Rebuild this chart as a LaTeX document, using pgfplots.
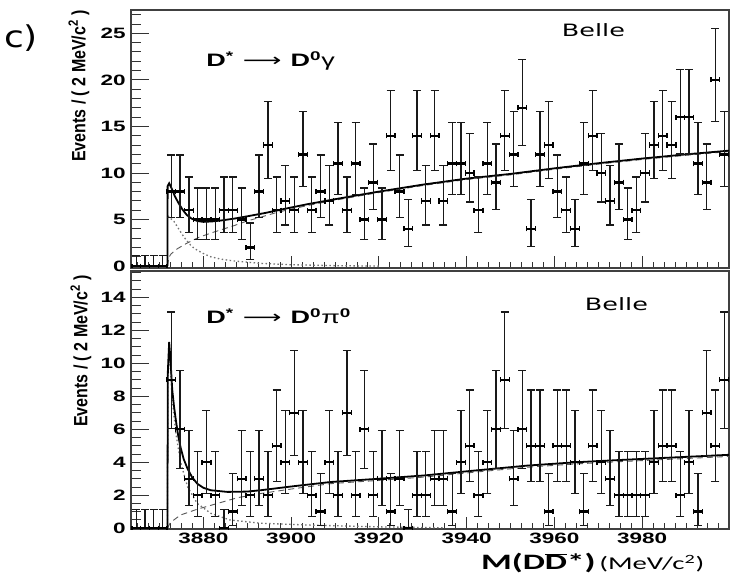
\documentclass[border=0pt]{standalone}
\usepackage{pgfplots}
\pgfplotsset{compat=1.18}
\usepackage{pgfplotstable}
\usepackage{fontspec}
\setmainfont{Liberation Sans}
\newfontfamily\dejavu{DejaVu Sans}
\newfontfamily\carlito{Carlito}

\pgfplotstableread{
x y ep em
3864.7 0 1.15 0
3866.7 0 1.15 0
3868.7 0 1.15 0
3870.7 0 1.15 0
3872.7 8 3.94 2.77
3874.7 8 3.94 2.77
3876.7 6 3.58 2.38
3878.7 5 3.38 2.16
3880.7 5 3.38 2.16
3882.7 5 3.38 2.16
3884.7 6 3.58 2.38
3886.7 6 3.58 2.38
3888.7 5 3.38 2.16
3890.7 2 2.64 1.29
3892.7 8 3.94 2.77
3894.7 13 4.70 3.56
3896.7 6 3.58 2.38
3898.7 7 3.77 2.58
3900.7 6 3.58 2.38
3902.7 12 4.56 3.42
3904.7 6 3.58 2.38
3906.7 8 3.94 2.77
3908.7 7 3.77 2.58
3910.7 11 4.42 3.27
3912.7 6 3.58 2.38
3914.7 11 4.42 3.27
3916.7 5 3.38 2.16
3918.7 9 4.11 2.94
3920.7 5 3.38 2.16
3922.7 14 4.83 3.70
3924.7 8 3.94 2.77
3926.7 4 3.16 1.91
3928.7 14 4.83 3.70
3930.7 7 3.77 2.58
3932.7 14 4.83 3.70
3934.7 7 3.77 2.58
3936.7 11 4.42 3.27
3938.7 11 4.42 3.27
3940.7 10 4.27 3.11
3942.7 6 3.58 2.38
3944.7 11 4.42 3.27
3946.7 9 4.11 2.94
3948.7 14 4.83 3.70
3950.7 12 4.56 3.42
3952.7 17 5.20 4.09
3954.7 4 3.16 1.91
3956.7 12 4.56 3.42
3958.7 13 4.70 3.56
3960.7 8 3.94 2.77
3962.7 6 3.58 2.38
3964.7 4 3.16 1.91
3966.7 11 4.42 3.27
3968.7 14 4.83 3.70
3970.7 10 4.27 3.11
3972.7 7 3.77 2.58
3974.7 9 4.11 2.94
3976.7 5 3.38 2.16
3978.7 6 3.58 2.38
3980.7 10 4.27 3.11
3982.7 13 4.70 3.56
3984.7 14 4.83 3.70
3986.7 13 4.70 3.56
3988.7 16 5.08 3.96
3990.7 16 5.08 3.96
3992.7 11 4.42 3.27
3994.7 9 4.11 2.94
3996.7 20 5.55 4.45
3998.7 12 4.56 3.42
}\toptab

\pgfplotstableread{
x y ep em
3864.7 0 1.15 0
3866.7 0 1.15 0
3868.7 0 1.15 0
3870.7 0 1.15 0
3872.7 9 4.11 2.94
3874.7 6 3.58 2.38
3876.7 3 2.92 1.63
3878.7 2 2.64 1.29
3880.7 4 3.16 1.91
3882.7 2 2.64 1.29
3884.7 0 1.15 0
3886.7 1 2.30 0.83
3888.7 3 2.92 1.63
3890.7 2 2.64 1.29
3892.7 3 2.92 1.63
3894.7 2 2.64 1.29
3896.7 5 3.38 2.16
3898.7 4 3.16 1.91
3900.7 7 3.77 2.58
3902.7 4 3.16 1.91
3904.7 2 2.64 1.29
3906.7 1 2.30 0.83
3908.7 4 3.16 1.91
3910.7 2 2.64 1.29
3912.7 7 3.77 2.58
3914.7 2 2.64 1.29
3916.7 6 3.58 2.38
3918.7 2 2.64 1.29
3920.7 3 2.92 1.63
3922.7 1 2.30 0.83
3924.7 3 2.92 1.63
3926.7 0 1.15 0
3928.7 2 2.64 1.29
3930.7 2 2.64 1.29
3932.7 3 2.92 1.63
3934.7 3 2.92 1.63
3936.7 1 2.30 0.83
3938.7 4 3.16 1.91
3940.7 5 3.38 2.16
3942.7 2 2.64 1.29
3944.7 4 3.16 1.91
3946.7 6 3.58 2.38
3948.7 9 4.11 2.94
3950.7 3 2.92 1.63
3952.7 6 3.58 2.38
3954.7 5 3.38 2.16
3956.7 5 3.38 2.16
3958.7 1 2.30 0.83
3960.7 5 3.38 2.16
3962.7 5 3.38 2.16
3964.7 4 3.16 1.91
3966.7 1 2.30 0.83
3968.7 5 3.38 2.16
3970.7 4 3.16 1.91
3972.7 3 2.92 1.63
3974.7 2 2.64 1.29
3976.7 2 2.64 1.29
3978.7 2 2.64 1.29
3980.7 2 2.64 1.29
3982.7 4 3.16 1.91
3984.7 5 3.38 2.16
3986.7 5 3.38 2.16
3988.7 2 2.64 1.29
3990.7 4 3.16 1.91
3992.7 1 2.30 0.83
3994.7 7 3.77 2.58
3996.7 5 3.38 2.16
3998.7 9 4.11 2.94
}\bottab

\pgfplotsset{
 panel/.style={
  scale only axis, width=598pt, height=258pt,
  xmin=3863.5, xmax=3999.8,
  axis line style={line width=1.2pt, black!75},
  tick align=inside, xtick pos=left, ytick pos=left,
  xtick={3880,3900,...,3980},
  minor xtick={3865,3867.5,...,3998},
  xtick style={line width=0.9pt, black!80, /pgfplots/major tick length=12pt, /pgfplots/minor tick length=6pt},
  ytick style={line width=0.9pt, black!80, /pgfplots/major tick length=18pt, /pgfplots/minor tick length=10pt},
  tick label style={font=\fontsize{15pt}{15pt}\selectfont\bfseries, xscale=1.5, black},
  /pgf/number format/assume math mode=true,
  /pgf/number format/1000 sep={},
 },
 yerr/.style={only marks, mark=-, mark size=0pt, black,
  error bars/.cd, y dir=both, y explicit,
  error bar style={line width=1.3pt, black!90},
  error mark=|,
  error mark options={line width=1.2pt, black!90, mark size=4pt}},
 xerr/.style={only marks, mark=-, mark size=0pt, black,
  error bars/.cd, x dir=both, x fixed=1,
  error bar style={line width=2.4pt, black},
  error mark=|,
  error mark options={line width=1.3pt, black, mark size=2.6pt}},
 fitline/.style={black, line width=1.8pt},
 bkgline/.style={black!65, line width=0.9pt, dash pattern=on 6pt off 4pt},
 sigline/.style={black!55, line width=1.3pt, dash pattern=on 1.5pt off 2.5pt},
}

\begin{document}
\begin{tikzpicture}[x=1pt,y=1pt]
\path[use as bounding box] (0,0) rectangle (748,582);

% top panel
\begin{axis}[panel, at={(131pt,314pt)}, anchor=south west,
  ymin=-0.2, ymax=27.5, ytick={0,5,...,25}, minor ytick={0,1,...,27},
  xticklabels={}]
\addplot[sigline] coordinates {(3871.9,5.4) (3873.3,4.8) (3874.5,3.9) (3875.6,3.1) (3877,2.3) (3877.9,1.9) (3880,1.35) (3881.7,1.0) (3884,0.75) (3887,0.55) (3893,0.3) (3900,0.15) (3910,0.05) (3920,0)};
\addplot[bkgline] coordinates {(3871.8,0) (3872.1,0.9) (3872.6,1.3) (3874,1.85) (3876,2.4) (3879,3.1) (3882,3.6) (3884,3.9) (3887,4.35) (3890,4.85) (3893,5.25) (3897,5.8) (3903.7,6.5) (3909,7.0) (3920,7.9) (3930,8.65) (3940,9.3) (3950,9.8) (3960,10.4) (3970,10.95) (3980,11.45) (3990,11.9) (3999.8,12.3)};
\addplot[fitline] coordinates {(3871.8,0) (3871.85,8.6) (3872.2,8.9) (3872.8,8.3) (3873.5,7.5) (3874.3,6.8) (3875.2,6.1) (3876.2,5.5) (3877.3,5.1) (3878.6,4.85) (3880,4.75) (3882,4.8) (3884,4.9) (3887,5.1) (3890,5.35) (3894,5.7) (3898,6.1) (3903.7,6.65) (3909,7.1) (3915,7.6) (3920,8.0) (3930,8.75) (3940,9.4) (3950,9.9) (3960,10.5) (3970,11.05) (3980,11.55) (3990,12.0) (3999.8,12.4)};
\addplot[yerr] table[x=x, y=y, y error plus=ep, y error minus=em] {\toptab};
\addplot[xerr] table[x=x, y=y] {\toptab};
\end{axis}

% bottom panel
\begin{axis}[panel, at={(131pt,53pt)}, anchor=south west,
  ymin=-0.05, ymax=15.6, ytick={0,2,...,14}, minor ytick={0,0.5,...,15.5}]
\addplot[sigline] coordinates {(3871.8,0) (3871.9,9) (3872.2,10.8) (3872.5,9.6) (3872.9,7.8) (3873.7,5.8) (3874.8,4.0) (3876.4,2.5) (3878.6,1.5) (3881.7,0.9) (3886,0.5) (3893,0.3) (3905,0.18) (3920,0.08) (3935,0.02)};
\addplot[bkgline] coordinates {(3871.8,0) (3872.5,0.35) (3874.8,0.8) (3878.6,1.15) (3883.2,1.5) (3887.8,1.85) (3893,2.1) (3900.7,2.4) (3909,2.7) (3920,2.9) (3930.4,3.1) (3942,3.4) (3954,3.7) (3965,3.9) (3976,4.05) (3988,4.2) (3999.8,4.35)};
\addplot[fitline] coordinates {(3871.8,0) (3871.9,9.5) (3872.2,11.3) (3872.5,10.2) (3872.9,8.4) (3873.3,7.4) (3873.7,6.6) (3874.2,5.7) (3874.8,4.9) (3875.5,4.2) (3876.4,3.6) (3877.4,3.1) (3878.6,2.7) (3880,2.45) (3881.7,2.3) (3885.5,2.2) (3890,2.22) (3893,2.3) (3900.7,2.55) (3909,2.8) (3920,3.0) (3930.4,3.2) (3942,3.5) (3954,3.8) (3965,4.0) (3976,4.15) (3988,4.3) (3999.8,4.45)};
\addplot[yerr] table[x=x, y=y, y error plus=ep, y error minus=em] {\bottab};
\addplot[xerr] table[x=x, y=y] {\bottab};
\end{axis}

% annotations
\node[font=\dejavu\fontsize{30pt}{30pt}\selectfont, xscale=1.2] at (21,544) {c)};
\node[rotate=90, yscale=1.2, font=\fontsize{16pt}{16pt}\selectfont\bfseries] at (79,496) {Events / ( 2 MeV/c\textsuperscript{2} )};
\node[rotate=90, yscale=1.2, font=\fontsize{16pt}{16pt}\selectfont\bfseries] at (81,231) {Events / ( 2 MeV/c\textsuperscript{2} )};
\node[anchor=west, xscale=1.5, font=\fontsize{18pt}{18pt}\selectfont\bfseries] at (201,521) {D\textsuperscript{*}\hspace{6pt}{\dejavu\mdseries ⟶}\hspace{6pt}D\textsuperscript{0}{\mdseries γ}};
\node[anchor=west, xscale=1.5, font=\fontsize{18pt}{18pt}\selectfont\bfseries] at (201,266) {D\textsuperscript{*}\hspace{6pt}{\dejavu\mdseries ⟶}\hspace{6pt}D\textsuperscript{0}{\mdseries π}\textsuperscript{0}};
\node[font=\dejavu\fontsize{17pt}{17pt}\selectfont, xscale=1.5] at (593.5,552) {Belle};
\node[font=\dejavu\fontsize{17pt}{17pt}\selectfont, xscale=1.5] at (616.5,278) {Belle};
\node[anchor=east, xscale=1.6, font=\carlito] at (710,19) {{\fontsize{22pt}{22pt}\selectfont\bfseries M(D$\overline{\mbox{D}}$*)} {\fontsize{18pt}{18pt}\selectfont (MeV/c\textsuperscript{2})}};
\end{tikzpicture}
\end{document}
